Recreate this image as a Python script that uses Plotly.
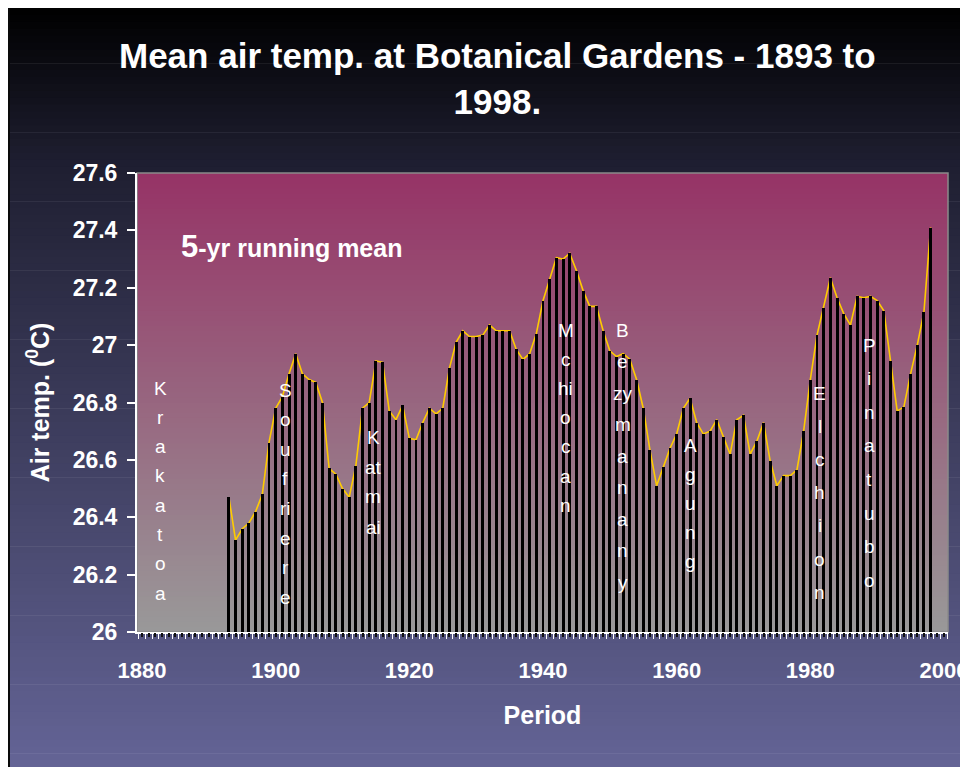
import plotly.graph_objects as go

# ---------------- data ----------------
years = list(range(1893, 1999))
temps = [
    26.47, 26.32, 26.36, 26.38, 26.42, 26.48, 26.66, 26.78, 26.82, 26.90,   # 1893-1902
    26.97, 26.90, 26.88, 26.87, 26.80, 26.57, 26.55, 26.50, 26.47, 26.58,   # 1903-1912
    26.78, 26.80, 26.945, 26.94, 26.77, 26.74, 26.79, 26.675, 26.67, 26.73, # 1913-1922
    26.78, 26.76, 26.78, 26.92, 27.01, 27.05, 27.03, 27.03, 27.035, 27.07,  # 1923-1932
    27.05, 27.05, 27.05, 26.985, 26.95, 26.97, 27.04, 27.155, 27.23, 27.305,# 1933-1942
    27.30, 27.32, 27.26, 27.19, 27.135, 27.135, 27.05, 26.98, 26.96, 26.97, # 1943-1952
    26.95, 26.88, 26.78, 26.635, 26.51, 26.575, 26.64, 26.69, 26.78, 26.815,# 1953-1962
    26.73, 26.69, 26.70, 26.74, 26.68, 26.62, 26.74, 26.755, 26.62, 26.665, # 1963-1972
    26.73, 26.595, 26.51, 26.545, 26.545, 26.565, 26.70, 26.88, 27.035, 27.13, # 1973-1982
    27.235, 27.165, 27.11, 27.07, 27.17, 27.165, 27.17, 27.155, 27.12, 26.945, # 1983-1992
    26.77, 26.785, 26.90, 27.00, 27.115, 27.41,                             # 1993-1998
]
assert len(years) == len(temps)

# running-mean line drops to zero on both sides of the record
line_years = [1892] + years + [1999]
line_temps = [0] + temps + [0]

y_tickvals = [26, 26.2, 26.4, 26.6, 26.8, 27, 27.2, 27.4, 27.6]
y_ticktext = ["26", "26.2", "26.4", "26.6", "26.8", "27", "27.2", "27.4", "27.6"]
x_tickvals = [1880, 1900, 1920, 1940, 1960, 1980, 2000]
x_ticktext = ["1880", "1900", "1920", "1940", "1960", "1980", "2000"]

volcanoes = [
    # name pieces, x year, first letter page-pixel-y, pixel spacing
    (["K", "r", "a", "k", "a", "t", "o", "a"], 1882.7, 388, 29.3),
    (["S", "o", "u", "f", "ri", "e", "r", "e"], 1901.4, 390, 29.6),
    (["K", "at", "m", "ai"], 1914.6, 437, 30.0),
    (["M", "c", "hi", "o", "c", "a", "n"], 1943.4, 330, 29.2),
    (["B", "e", "zy", "m", "a", "n", "a", "n", "y"], 1951.9, 330, 31.5),
    (["A", "g", "u", "n", "g"], 1962.1, 445, 29.2),
    (["E", "l", "c", "h", "i", "o", "n"], 1981.4, 393, 33.2),
    (["P", "i", "n", "a", "t", "u", "b", "o"], 1988.8, 345, 33.6),
]

# ---------------- layout geometry ----------------
OFF = 8                       # page body margin
W, H = 960, 759               # figure size
PL, PR, PT, PB = 137, 948, 173, 632   # plot area in page pixels
L, T = PL - OFF, PT - OFF
R = W - (PR - OFF)
B = H - (PB - OFF)
PW, PH = PR - PL, PB - PT
FONT = "Liberation Sans, Arial, Helvetica, sans-serif"
XR = [1879.25, 2000.6]
YR = [26, 27.6]


def px2x(px):   # page pixel -> paper x
    return (px - PL) / PW


def py2y(py):   # page pixel -> paper y
    return (PB - py) / PH


def lerp(c0, c1, t):
    return tuple(round(a + (b - a) * t) for a, b in zip(c0, c1))


shapes = []
# page gradient (page pixel stops)
stops = [(8, (0, 0, 0)), (160, (30, 30, 48)), (767, (100, 100, 150))]
N = 110
y_top, y_bot = 8, 767
for i in range(N):
    a = y_top + (y_bot - y_top) * i / N
    b = y_top + (y_bot - y_top) * (i + 1) / N
    mid = (a + b) / 2
    for (p0, c0), (p1, c1) in zip(stops[:-1], stops[1:]):
        if p0 <= mid <= p1:
            col = lerp(c0, c1, (mid - p0) / (p1 - p0))
            break
    shapes.append(dict(type="rect", xref="paper", yref="paper", layer="below",
                       x0=px2x(0), x1=px2x(980), y0=py2y(b + 0.6), y1=py2y(a - 1 if i == 0 else a),
                       fillcolor="rgb(%d,%d,%d)" % col, line=dict(width=0)))
# left dark frame line
shapes.append(dict(type="line", xref="paper", yref="paper", layer="below",
                   x0=px2x(9), x1=px2x(9), y0=py2y(770), y1=py2y(6),
                   line=dict(color="#0a0a0a", width=2)))
# plot area gradient
top_c, bot_c = (150, 51, 102), (153, 153, 153)
M = 90
for i in range(M):
    a = i / M
    b = (i + 1) / M
    col = lerp(top_c, bot_c, (a + b) / 2)
    shapes.append(dict(type="rect", xref="paper", yref="paper", layer="below",
                       x0=0, x1=1, y0=1 - b - 0.002, y1=1 - a,
                       fillcolor="rgb(%d,%d,%d)" % col, line=dict(width=0)))
shapes.append(dict(type="rect", xref="paper", yref="paper", layer="below",
                   x0=0, x1=1, y0=0, y1=1, fillcolor="rgba(0,0,0,0)",
                   line=dict(color="#8a8a8a", width=1.5)))

fig = go.Figure()
fig.add_trace(go.Scatter(x=line_years, y=line_temps, mode="lines",
                         line=dict(color="#FFCC00", width=1.6),
                         hoverinfo="skip", showlegend=False, cliponaxis=True))
# bars on an overlaid subplot so they sit above the yellow line
fig.add_trace(go.Bar(x=years, y=temps, width=0.44, marker=dict(color="black", line=dict(width=0)),
                     showlegend=False, xaxis="x2", yaxis="y2"))

annotations = []
annotations.append(dict(
    xref="paper", yref="paper", x=px2x(497), y=py2y(79), xanchor="center", yanchor="middle",
    text="<b>Mean air temp. at Botanical Gardens - 1893 to<br>1998.</b>", showarrow=False,
    font=dict(family=FONT, size=35, color="white"), align="center"))
annotations.append(dict(
    xref="paper", yref="paper", x=px2x(179), y=py2y(246), xanchor="left", yanchor="middle",
    text="<b><span style='font-size:31px'>5</span>-yr running mean</b>", showarrow=False,
    font=dict(family=FONT, size=25, color="white")))
for pieces, xy, py0, sp in volcanoes:
    for k, s in enumerate(pieces):
        annotations.append(dict(
            xref="x", yref="paper", x=xy, y=py2y(py0 + k * sp), xanchor="center", yanchor="middle",
            text=s, showarrow=False, font=dict(family=FONT, size=19, color="white")))

fig.update_layout(
    width=W, height=H,
    margin=dict(l=L, r=R, t=T, b=B, pad=0, autoexpand=False),
    paper_bgcolor="white", plot_bgcolor="rgba(0,0,0,0)",
    shapes=shapes, annotations=annotations,
    bargap=0, showlegend=False,
    font=dict(family=FONT, color="white"),
    xaxis=dict(
        range=XR, showgrid=False, zeroline=False, automargin=False,
        showline=True, linecolor="white", linewidth=2,
        tickvals=x_tickvals, ticktext=x_ticktext, ticks="",
        ticklabelstandoff=18, ticklabeloverflow="allow",
        tickfont=dict(family=FONT, size=22, color="white", weight="bold"),
        minor=dict(ticks="outside", dtick=1, tick0=0.5, ticklen=5, tickcolor="white", tickwidth=1, showgrid=False),
        title=dict(text="<b>Period</b>", font=dict(family=FONT, size=25, color="white"), standoff=24),
    ),
    xaxis2=dict(
        range=XR, overlaying="x", side="bottom", showgrid=False, zeroline=False, automargin=False,
        showline=False, showticklabels=False, ticks="outside", tickmode="linear",
        tick0=1880, dtick=1, ticklen=4, tickwidth=1.5, tickcolor="#111111",
    ),
    yaxis=dict(
        range=YR, showgrid=False, zeroline=False, automargin=False,
        showline=True, linecolor="white", linewidth=2,
        tickvals=y_tickvals, ticktext=y_ticktext, ticks="outside", ticklen=8, tickcolor="white", tickwidth=1.5,
        ticklabelstandoff=5,
        tickfont=dict(family=FONT, size=23, color="white", weight="bold"),
        title=dict(text="<b>Air temp. (<sup>0</sup>C)</b>", font=dict(family=FONT, size=25, color="white"), standoff=16),
    ),
    yaxis2=dict(range=YR, overlaying="y", visible=False, automargin=False),
)

fig.write_html("out.html")
